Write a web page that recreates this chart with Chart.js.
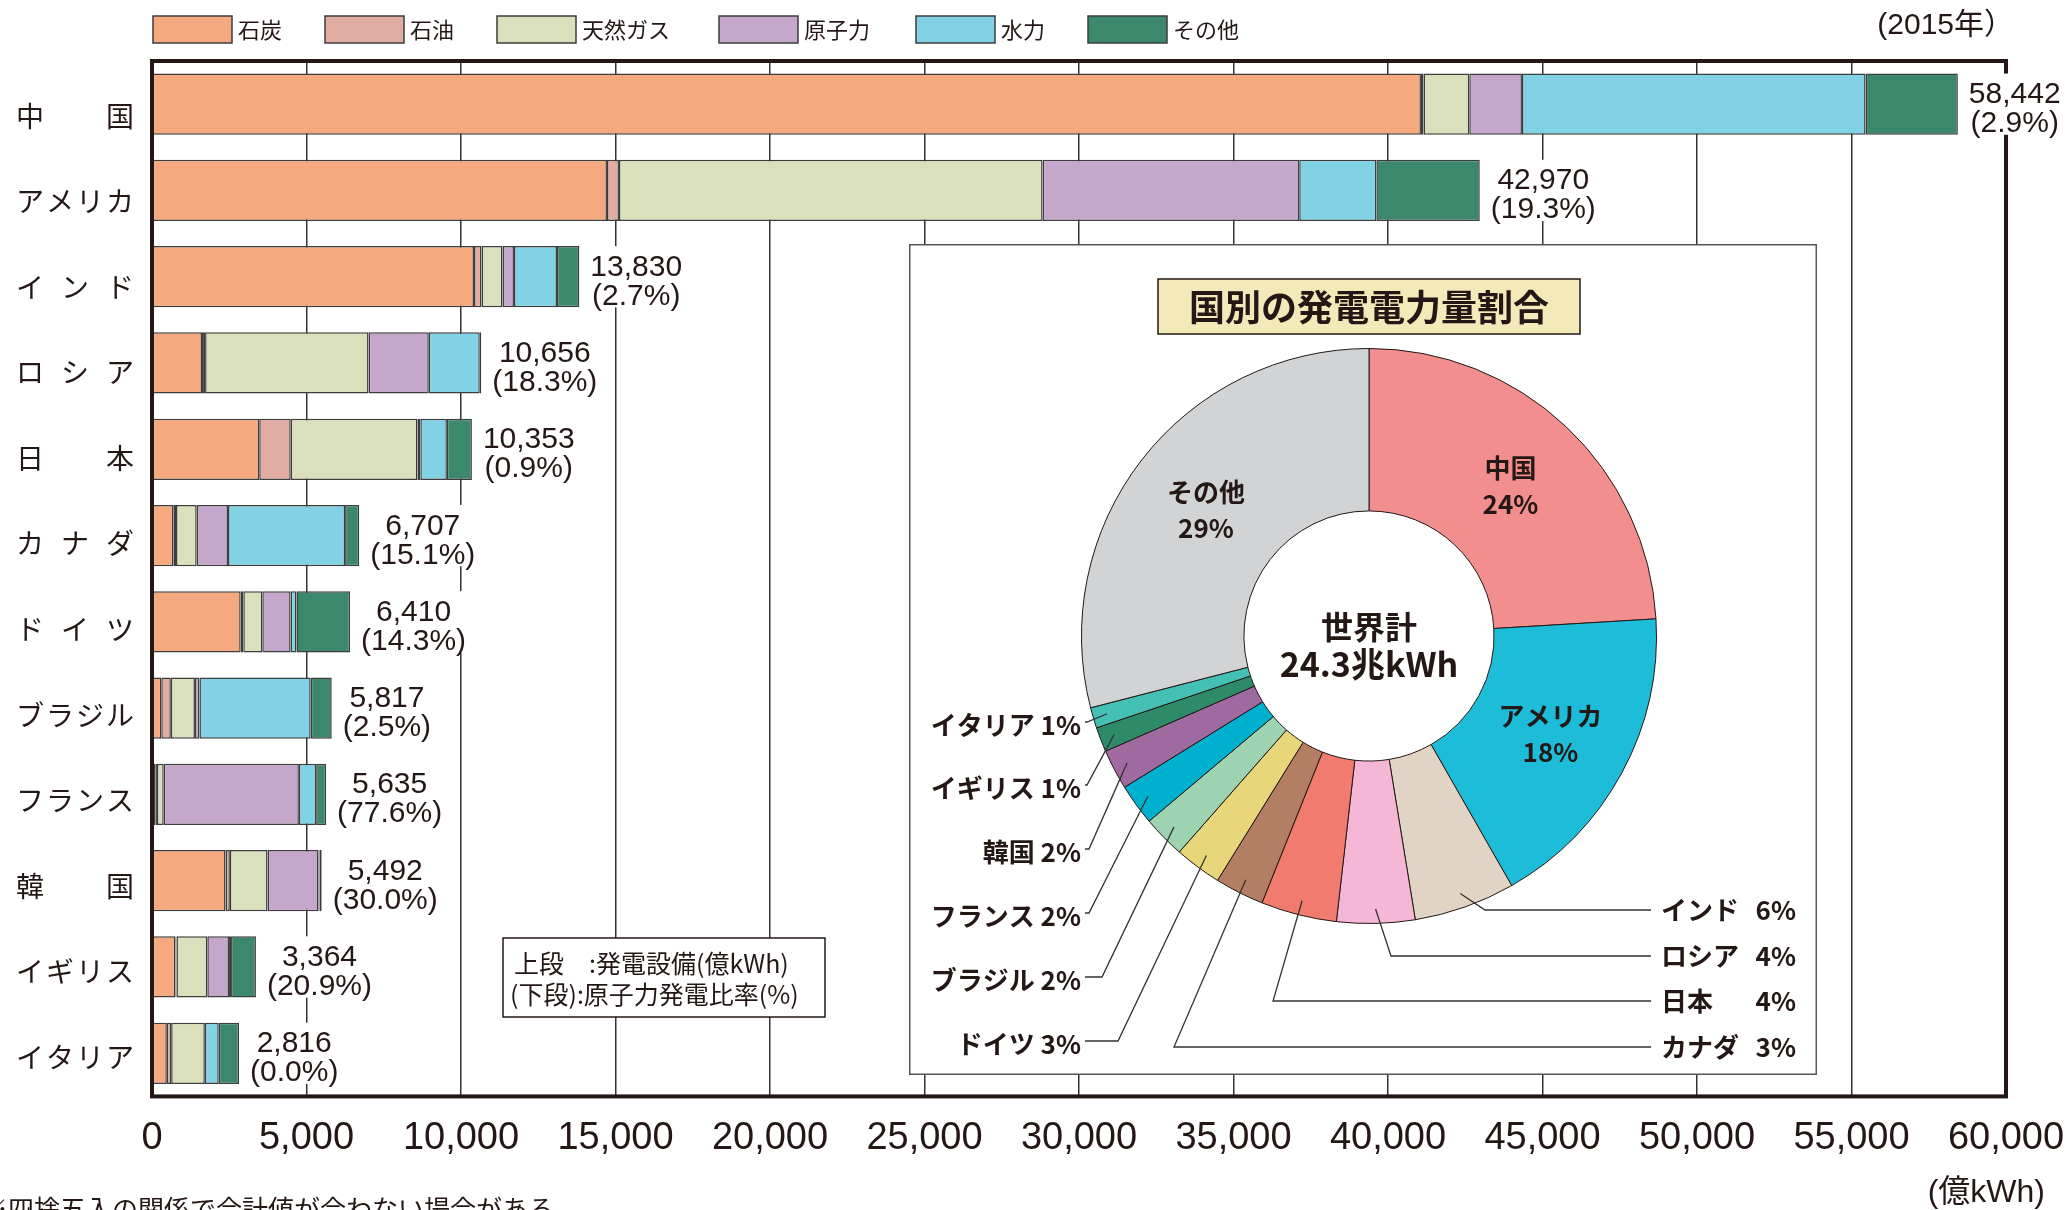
<!DOCTYPE html>
<html lang="ja">
<head>
<meta charset="utf-8">
<title>主要国の発電電力量</title>
<script src="https://cdn.jsdelivr.net/npm/chart.js@4.4.1/dist/chart.umd.min.js"></script>
<style>
  html, body { margin: 0; padding: 0; background: #fff; }
  #wrap { position: relative; width: 2069px; height: 1210px; overflow: hidden; }
  #barChart { position: absolute; left: 0; top: 0; }
  #pieChart { position: absolute; left: 909px; top: 244px; }
</style>
</head>
<body>
<div id="wrap">
  <canvas id="barChart" width="2069" height="1210"></canvas>
  <canvas id="pieChart" width="908" height="831"></canvas>
</div>
<script>
// ---- data (億kWh, 2015) ----
const countries = ['中国', 'アメリカ', 'インド', 'ロシア', '日本', 'カナダ', 'ドイツ', 'ブラジル', 'フランス', '韓国', 'イギリス', 'イタリア'];
const sources = ['石炭', '石油', '天然ガス', '原子力', '水力', 'その他'];
const coal    = [41066, 14724, 10420, 1618, 3470,  690, 2870,  300,  120, 2380, 760, 480];
const oil     = [   84,   388,   243,  100, 1020,   87,   85,  310,   40,  140,  30, 140];
const gas     = [ 1480, 13711,   679, 5290, 4100,  669,  614,  780,  220, 1220, 1000, 1090];
const nuclear = [ 1705,  8304,   372, 1950,   93, 1013,  917,  145, 4373, 1648, 703,   0];
const hydro   = [11121,  2496,  1392, 1650,  860, 3790,  190, 3600,  560,   30,  65, 450];
const other   = [ 2986,  3347,   724,   48,  810,  458, 1734,  682,  322,   74, 806, 656];
const totals  = [58442, 42970, 13830, 10656, 10353, 6707, 6410, 5817, 5635, 5492, 3364, 2816];
const nuclearShare = ['2.9', '19.3', '2.7', '18.3', '0.9', '15.1', '14.3', '2.5', '77.6', '30.0', '20.9', '0.0'];

const pieLabels  = ['中国', 'アメリカ', 'インド', 'ロシア', '日本', 'カナダ', 'ドイツ', 'ブラジル', 'フランス', '韓国', 'イギリス', 'イタリア', 'その他'];
const pieValues  = [58442, 42970, 13830, 10656, 10353, 6707, 6410, 5817, 5635, 5492, 3364, 2816, 70508];
const piePercent = ['24%', '18%', '6%', '4%', '4%', '3%', '3%', '2%', '2%', '2%', '1%', '1%', '29%'];

// ---- styles ----
const textColor = '#231815';
const jpFont = '"Noto Sans CJK JP", "Noto Sans", sans-serif';
const numFont = '"Liberation Sans", Arial, "Noto Sans CJK JP", sans-serif';
const sourceColors = ['#F6A87E', '#E1ADA3', '#DAE0BC', '#C6A7CC', '#80D2E4', '#3C886C'];
const pieColors = ['#F38E8F', '#1DBCD8', '#E2D4C4', '#F4B8D6', '#F27B70', '#B47E64',
                   '#E8D67A', '#9DD3B0', '#00B0CF', '#9E6AA0', '#2E8B6A', '#45C0B5', '#D1D3D4'];
const legendX = [153, 325, 497, 719, 916, 1088];

// where the outside pie labels go (overlay canvas coords)
const pieRight = {
  'インド': { y: 666, elbow: 576 },
  'ロシア': { y: 712, elbow: 482 },
  '日本':   { y: 757, elbow: 364 },
  'カナダ': { y: 803, elbow: 265 }
};
const pieLeft = {
  'イタリア': { y: 481, stub: 178 },
  'イギリス': { y: 544, stub: 178 },
  '韓国':     { y: 608, stub: 180 },
  'フランス': { y: 672, stub: 180 },
  'ブラジル': { y: 736, stub: 193 },
  'ドイツ':   { y: 800, stub: 209 }
};

// ---- bar chart extras: frame, labels, legend, notes ----
const barDecor = {
  id: 'barDecor',
  afterDatasetsDraw(chart) {
    const { ctx, chartArea: a, scales: { x, y } } = chart;
    ctx.save();

    ctx.strokeStyle = textColor;
    ctx.lineWidth = 4;
    ctx.strokeRect(a.left, a.top, a.right - a.left, a.bottom - a.top);

    // category names, spread over a fixed width
    ctx.fillStyle = textColor;
    ctx.font = '28px ' + jpFont;
    ctx.textBaseline = 'middle';
    ctx.textAlign = 'left';
    countries.forEach((name, i) => {
      const cy = y.getPixelForValue(i) + 12 - i * 0.75;
      const chars = Array.from(name);
      const widths = chars.map(c => ctx.measureText(c).width);
      const gap = (134 - 16 - widths.reduce((s, w) => s + w, 0)) / (chars.length - 1);
      let cx = 16;
      chars.forEach((c, k) => {
        ctx.fillText(c, cx, cy);
        cx += widths[k] + gap;
      });
    });

    // totals and nuclear share, on a white patch that hides grid lines
    const bars = chart.getDatasetMeta(sources.length - 1).data;
    ctx.font = '30px ' + numFont;
    ctx.textAlign = 'center';
    ctx.textBaseline = 'alphabetic';
    totals.forEach((t, i) => {
      const cy = y.getPixelForValue(i);
      const x0 = x.getPixelForValue(t) + 11;
      const top = t.toLocaleString('en-US');
      const bottom = '(' + nuclearShare[i] + '%)';
      const w = Math.max(ctx.measureText(top).width, ctx.measureText(bottom).width);
      const h = bars[i].height;
      ctx.fillStyle = '#fff';
      ctx.fillRect(x0 - 3, cy - h / 2, w + 6, h);
      ctx.fillStyle = textColor;
      ctx.fillText(top, x0 + w / 2, cy - 1);
      ctx.fillText(bottom, x0 + w / 2, cy + 28);
    });

    // legend
    ctx.textAlign = 'left';
    ctx.textBaseline = 'middle';
    ctx.font = '22px ' + jpFont;
    sources.forEach((s, i) => {
      ctx.fillStyle = sourceColors[i];
      ctx.fillRect(legendX[i], 16, 79, 27);
      ctx.strokeStyle = '#3d3d3d';
      ctx.lineWidth = 1.5;
      ctx.strokeRect(legendX[i], 16, 79, 27);
      ctx.fillStyle = textColor;
      ctx.fillText(s, legendX[i] + 85, 30);
    });

    // year and unit
    ctx.textAlign = 'right';
    ctx.font = '30px ' + numFont;
    ctx.fillText('(2015年）', 2014, 26);
    ctx.font = '32px ' + numFont;
    ctx.fillText('(億kWh)', 2045, 1193);

    // note box
    ctx.fillStyle = '#fff';
    ctx.fillRect(503, 938, 322, 79);
    ctx.strokeStyle = textColor;
    ctx.lineWidth = 1.5;
    ctx.strokeRect(503, 938, 322, 79);
    ctx.fillStyle = textColor;
    ctx.textAlign = 'left';
    ctx.font = '25px ' + jpFont;
    ctx.fillText('上段\u3000:発電設備(億kWh)', 514, 963);
    ctx.fillText('(下段):原子力発電比率(%)', 510, 994);

    // footnote, cut by the bottom edge
    ctx.textBaseline = 'top';
    ctx.font = '26px ' + jpFont;
    ctx.fillText('※四捨五入の関係で合計値が合わない場合がある', -18, 1196);

    ctx.restore();
  }
};

const seriesList = [coal, oil, gas, nuclear, hydro, other];

new Chart(document.getElementById('barChart'), {
  type: 'bar',
  data: {
    labels: countries,
    datasets: sources.map((s, i) => ({
      label: s,
      data: seriesList[i],
      backgroundColor: sourceColors[i],
      borderColor: '#3d3d3d',
      borderWidth: 1.5,
      borderSkipped: false,
      barPercentage: 0.71,
      categoryPercentage: 1.0
    }))
  },
  options: {
    indexAxis: 'y',
    responsive: false,
    animation: false,
    layout: { padding: { left: 152, right: 63, top: 61, bottom: 30 } },
    plugins: { legend: { display: false }, tooltip: { enabled: false } },
    scales: {
      x: {
        stacked: true,
        min: 0,
        max: 60000,
        ticks: {
          stepSize: 5000,
          padding: 19,
          color: textColor,
          font: { family: numFont, size: 38 },
          callback: v => v.toLocaleString('en-US')
        },
        grid: { color: '#333', lineWidth: 1.5, drawTicks: false },
        border: { display: false },
        // the end labels may hang over the frame, like the printed chart
        afterFit: scale => { scale.paddingLeft = 0; scale.paddingRight = 0; }
      },
      y: { stacked: true, display: false }
    }
  },
  plugins: [barDecor]
});

// ---- doughnut inset ----
const pieDecor = {
  id: 'pieDecor',
  beforeDraw(chart) {
    const { ctx, width, height } = chart;
    ctx.save();
    ctx.fillStyle = '#fff';
    ctx.fillRect(0, 0, width, height);
    ctx.strokeStyle = '#555';
    ctx.lineWidth = 1.5;
    ctx.strokeRect(0.75, 0.75, width - 1.5, height - 1.5);

    ctx.fillStyle = '#F4E9B8';
    ctx.fillRect(249, 35, 422, 55);
    ctx.strokeStyle = textColor;
    ctx.lineWidth = 1.5;
    ctx.strokeRect(249, 35, 422, 55);
    ctx.fillStyle = textColor;
    ctx.font = 'bold 36px ' + jpFont;
    ctx.textAlign = 'center';
    ctx.textBaseline = 'middle';
    ctx.fillText('国別の発電電力量割合', 460, 63);
    ctx.restore();
  },
  afterDatasetsDraw(chart) {
    const { ctx } = chart;
    const arcs = chart.getDatasetMeta(0).data;
    ctx.save();
    ctx.fillStyle = textColor;
    ctx.textBaseline = 'middle';

    // centre text
    const c = arcs[0];
    ctx.textAlign = 'center';
    ctx.font = 'bold 32px ' + jpFont;
    ctx.fillText('世界計', c.x, c.y - 9);
    ctx.font = 'bold 34px ' + jpFont;
    ctx.fillText('24.3兆kWh', c.x, c.y + 28);

    arcs.forEach((arc, i) => {
      const name = pieLabels[i];
      const mid = (arc.startAngle + arc.endAngle) / 2;
      const ax = arc.x + Math.cos(mid) * arc.outerRadius * 0.95;
      const ay = arc.y + Math.sin(mid) * arc.outerRadius * 0.95;
      ctx.strokeStyle = '#333';
      ctx.lineWidth = 1.3;

      if (pieRight[name]) {
        const p = pieRight[name];
        ctx.beginPath();
        ctx.moveTo(ax, ay);
        ctx.lineTo(p.elbow, p.y);
        ctx.lineTo(742, p.y);
        ctx.stroke();
        ctx.font = 'bold 26px ' + jpFont;
        ctx.textAlign = 'left';
        ctx.fillText(name, 752, p.y);
        ctx.textAlign = 'right';
        ctx.fillText(piePercent[i], 887, p.y);
      } else if (pieLeft[name]) {
        const p = pieLeft[name];
        ctx.beginPath();
        ctx.moveTo(176, p.y - 3);
        ctx.lineTo(p.stub, p.y - 3);
        ctx.lineTo(ax, ay);
        ctx.stroke();
        ctx.font = 'bold 26px ' + jpFont;
        ctx.textAlign = 'right';
        ctx.fillText(name + ' ' + piePercent[i], 172, p.y);
      } else {
        const pos = arc.tooltipPosition();
        ctx.font = 'bold 26px ' + jpFont;
        ctx.textAlign = 'center';
        ctx.fillText(name, pos.x, pos.y - 18);
        ctx.fillText(piePercent[i], pos.x, pos.y + 18);
      }
    });
    ctx.restore();
  }
};

new Chart(document.getElementById('pieChart'), {
  type: 'doughnut',
  data: {
    labels: pieLabels,
    datasets: [{
      data: pieValues,
      backgroundColor: pieColors,
      borderColor: textColor,
      borderWidth: 1
    }]
  },
  options: {
    responsive: false,
    animation: false,
    cutout: '43.5%',
    layout: { padding: { left: 172, right: 160, top: 104, bottom: 151 } },
    plugins: { legend: { display: false }, tooltip: { enabled: false } }
  },
  plugins: [pieDecor]
});
</script>
</body>
</html>
